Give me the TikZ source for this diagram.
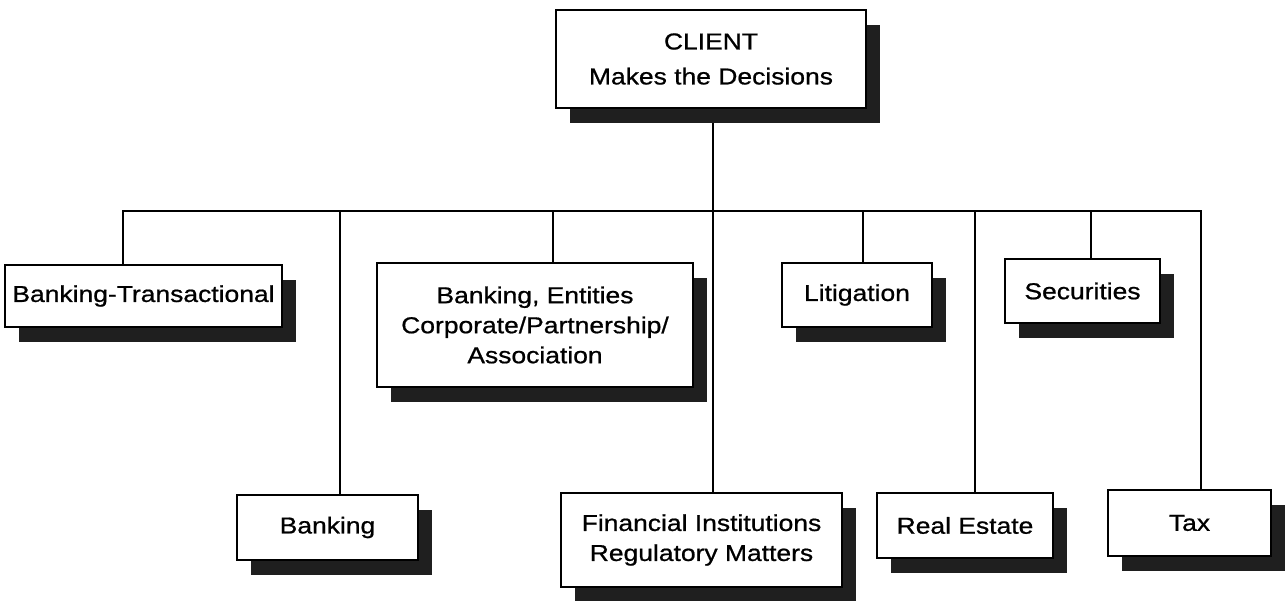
\documentclass[tikz,border=0pt]{standalone}
\usepackage{fontspec}
\setmainfont[FakeStretch=1.15,FakeBold=0.8]{Liberation Sans}
\usepackage{tikz}
\usetikzlibrary{shadows,backgrounds}
\tikzset{unit/.style={draw, line width=1.4pt, fill=white, inner sep=0pt, align=center,
  font=\fontsize{23}{30}\selectfont,
  drop shadow={shadow xshift=14pt, shadow yshift=-15pt, fill=black!88, opacity=1}}}
\def\unitnode{\node[unit]}

\begin{document}
\begin{tikzpicture}[x=1pt,y=-1pt]
\useasboundingbox (0,0) rectangle (1287,600);
\unitnode[minimum width=310pt, minimum height=98pt] (client) at (711,59) {CLIENT\\[5pt]Makes the Decisions};
\unitnode[minimum width=277pt, minimum height=62pt] (bt) at (143.5,296) {Banking-Transactional};
\unitnode[minimum width=316pt, minimum height=124pt] (entities) at (535,325) {Banking, Entities\\Corporate/Partnership/\\Association};
\unitnode[minimum width=150pt, minimum height=64pt] (litig) at (857,295) {Litigation};
\unitnode[minimum width=155pt, minimum height=64pt] (secur) at (1082.5,291) {Securities};
\unitnode[minimum width=181pt, minimum height=65pt] (banking) at (327.5,527.5) {Banking};
\unitnode[minimum width=281pt, minimum height=94pt] (fin) at (701.5,540) {Financial Institutions\\Regulatory Matters};
\unitnode[minimum width=176pt, minimum height=65pt] (realest) at (965,525.5) {Real Estate};
\unitnode[minimum width=163pt, minimum height=66pt] (tax) at (1189.5,523) {Tax};
\coordinate (jbt) at (123,211);
\coordinate (jbank) at (340,211);
\coordinate (jent) at (553,211);
\coordinate (jmid) at (713,211);
\coordinate (jlit) at (863,211);
\coordinate (jreal) at (975,211);
\coordinate (jsec) at (1091,211);
\coordinate (jtax) at (1201,211);
\begin{pgfonlayer}{background}
\draw[line width=1.2pt] (bt.north -| jbt) -- (jbt) -- (jtax) -- (tax.north -| jtax);
\draw[line width=1.2pt] (client.south -| jmid) -- (fin.north -| jmid);
\draw[line width=1.2pt] (jbank) -- (banking.north -| jbank);
\draw[line width=1.2pt] (jent) -- (entities.north -| jent);
\draw[line width=1.2pt] (jlit) -- (litig.north -| jlit);
\draw[line width=1.2pt] (jreal) -- (realest.north -| jreal);
\draw[line width=1.2pt] (jsec) -- (secur.north -| jsec);
\end{pgfonlayer}
\end{tikzpicture}
\end{document}
